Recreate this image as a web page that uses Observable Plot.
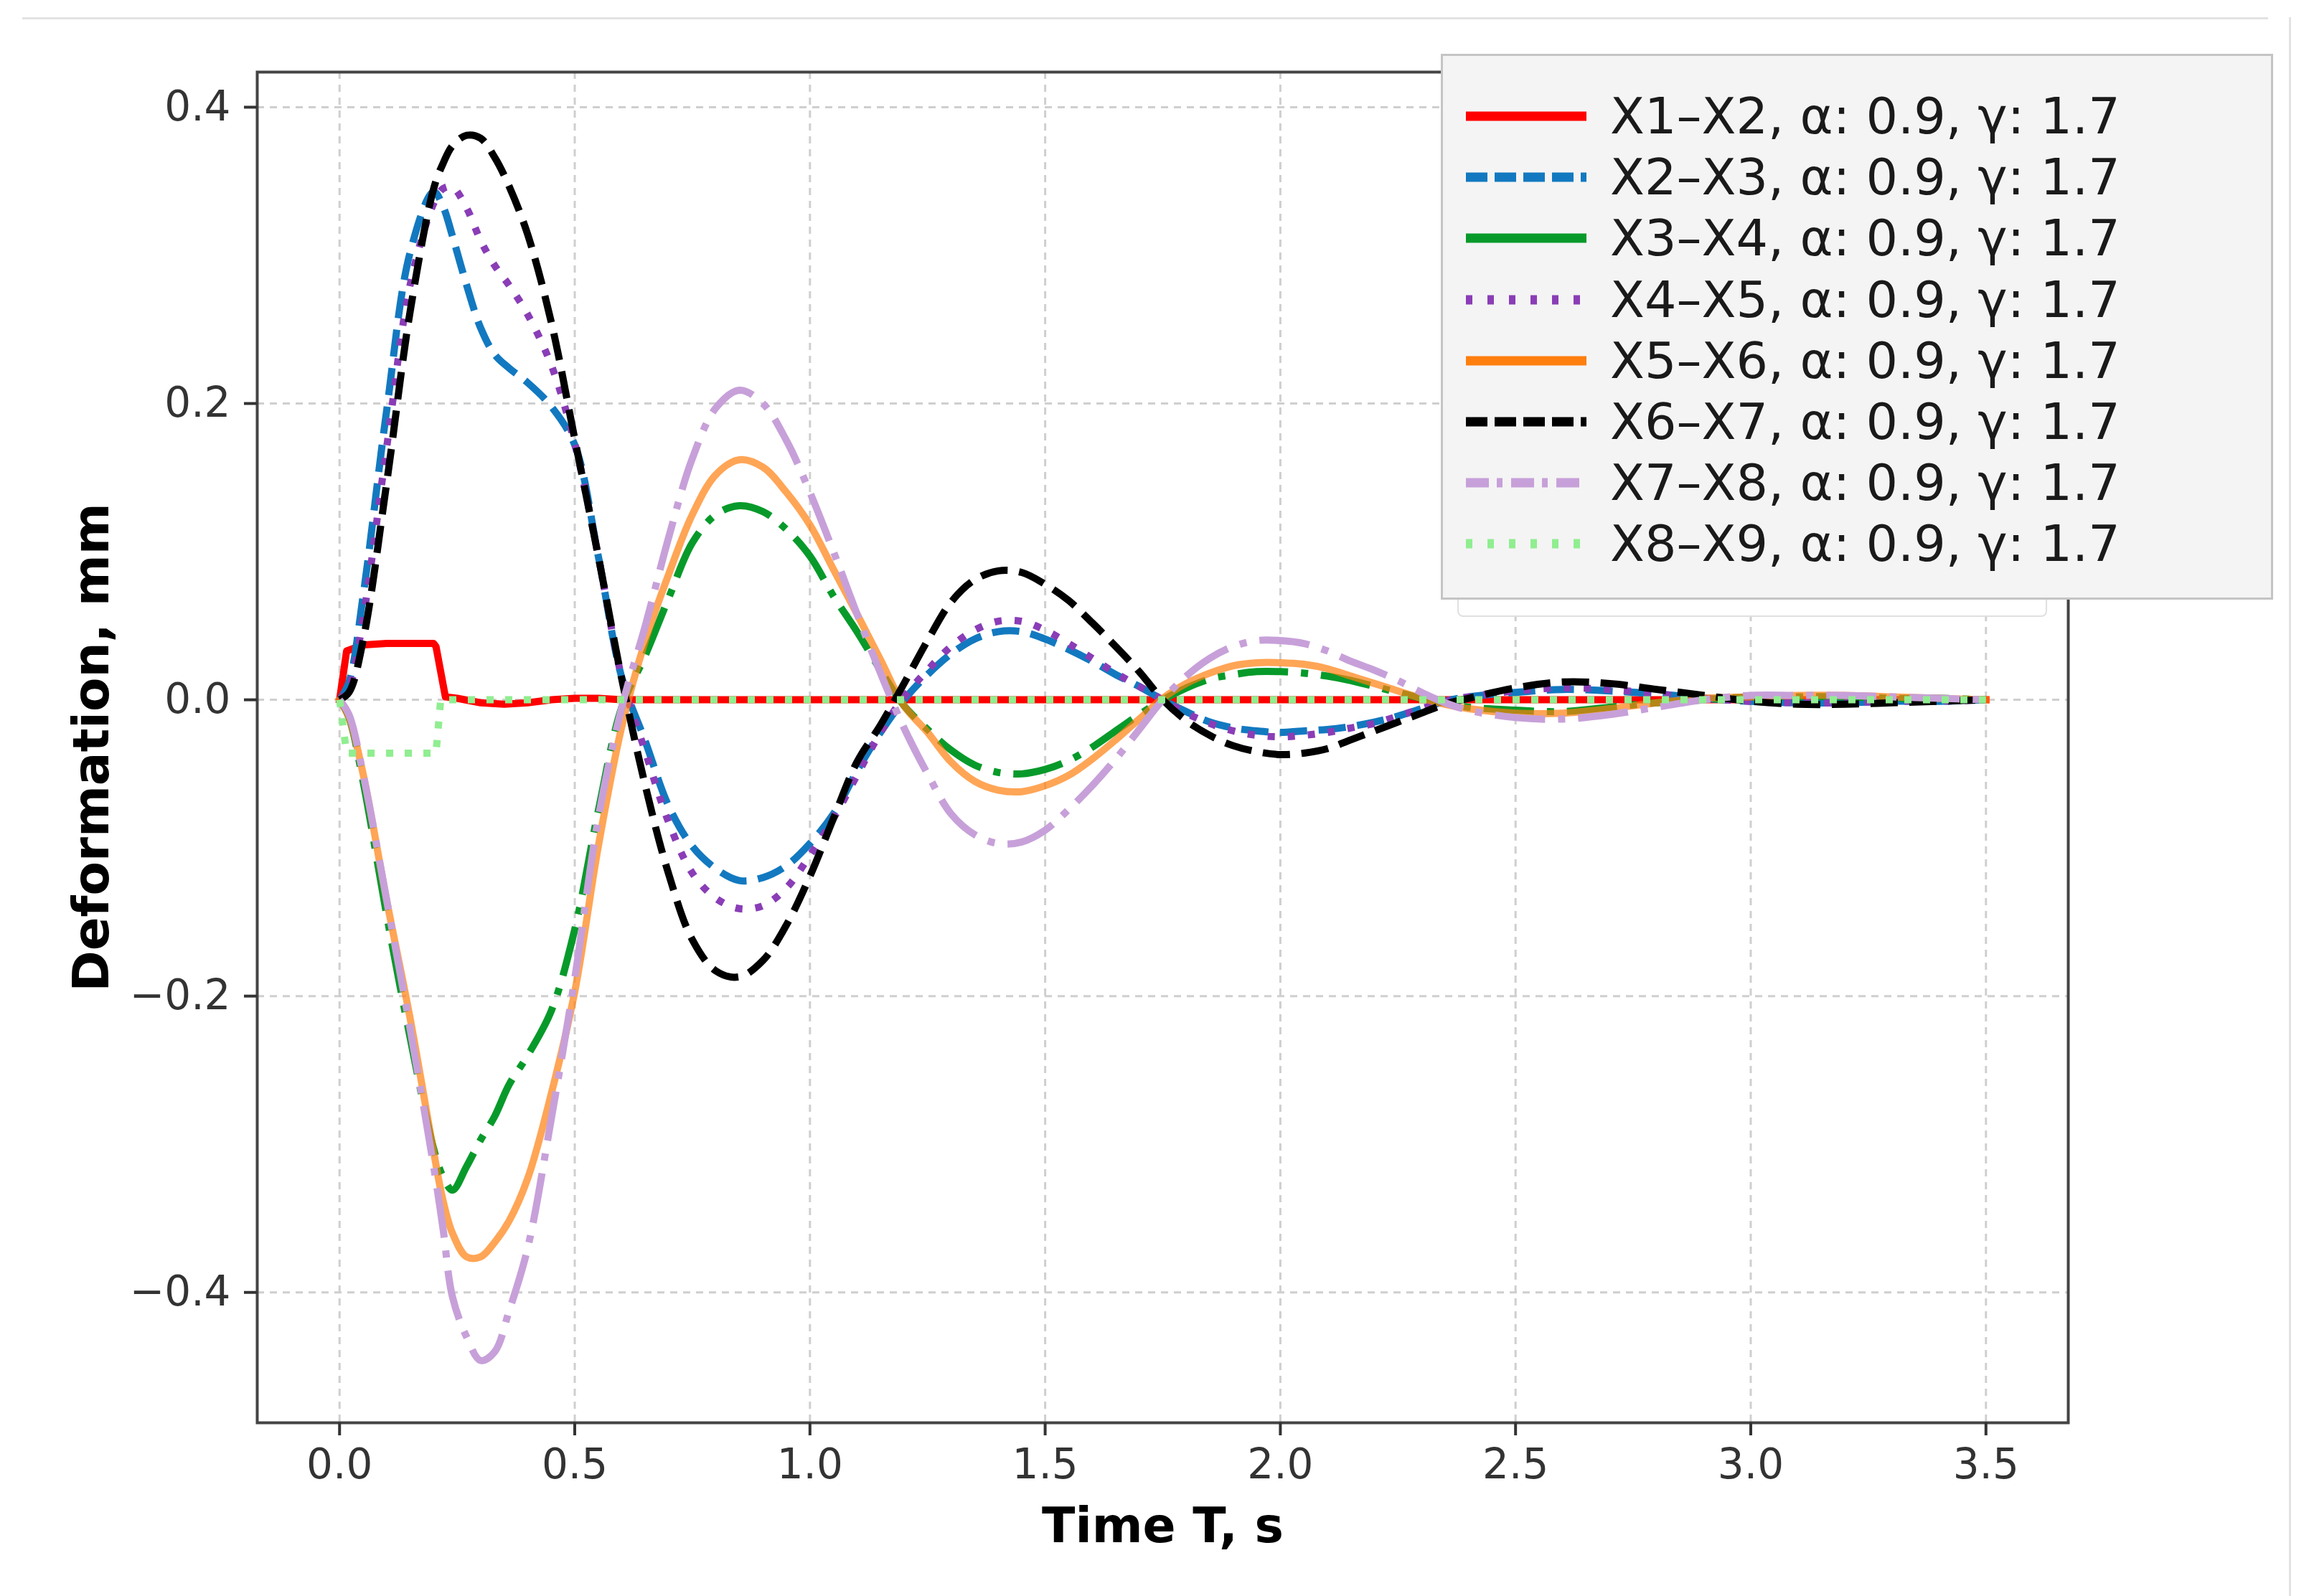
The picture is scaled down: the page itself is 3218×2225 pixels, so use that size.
<!DOCTYPE html>
<html><head><meta charset="utf-8">
<script src="https://cdn.jsdelivr.net/npm/d3@7"></script>
<script src="https://cdn.jsdelivr.net/npm/@observablehq/plot@0.6"></script>
<style>
html,body{margin:0;padding:0;background:#fff;}
#wrap{position:relative;width:3218px;height:2225px;overflow:hidden;background:#fff;font-family:'DejaVu Sans',sans-serif;}
#wrap > svg{position:absolute;left:0;top:0;}
.deco{position:absolute;background:#e2e2e2;}
#ghost{position:absolute;left:2031px;top:700px;width:818px;height:156px;border:2px solid #e0e0e0;border-radius:8px;background:#fff;}
#legend{position:absolute;left:2008px;top:75px;width:1154px;height:755px;border:3px solid #c4c4c4;background:#f4f4f4;}
.row{position:absolute;left:0;height:84px;display:flex;align-items:center;}
.row svg{position:static;}
.row span{font-size:70px;line-height:1;color:#1a1a1a;margin-left:33px;white-space:nowrap;}
</style></head><body><div id="wrap"></div><script>
// ---- data ----
const xTicks = [0, 0.5, 1.0, 1.5, 2.0, 2.5, 3.0, 3.5];
const yTicks = [-0.4, -0.2, 0, 0.2, 0.4];

const T = [0, 0.02, 0.05, 0.1, 0.15, 0.2, 0.22, 0.24, 0.27, 0.3, 0.33, 0.36, 0.4, 0.45, 0.5, 0.55, 0.6,
  0.65, 0.7, 0.75, 0.8, 0.85, 0.9, 0.95, 1.0, 1.05, 1.1, 1.15, 1.2, 1.25, 1.3, 1.35, 1.4, 1.45, 1.5,
  1.55, 1.6, 1.65, 1.7, 1.75, 1.8, 1.85, 1.9, 1.95, 2.0, 2.05, 2.1, 2.15, 2.2, 2.25, 2.3, 2.35, 2.4,
  2.5, 2.6, 2.7, 2.8, 2.9, 3.0, 3.1, 3.2, 3.3, 3.4, 3.5];

const tX1X2 = [0, 0.015, 0.05, 0.1, 0.15, 0.2, 0.205, 0.225, 0.25, 0.3, 0.35, 0.4, 0.45, 0.5, 0.55, 0.6, 0.8, 1.0, 1.5, 2.0, 2.5, 3.0, 3.5];
const X1X2 = [0, 0.033, 0.037, 0.038, 0.038, 0.038, 0.036, 0.002, 0.001, -0.002, -0.003, -0.002, 0.0, 0.001, 0.001, 0.0, 0, 0, 0, 0, 0, 0, 0];

const X2X3 = [0, 0.012, 0.07, 0.195, 0.302, 0.343, 0.333, 0.313, 0.28, 0.251, 0.233, 0.224, 0.214, 0.198, 0.172, 0.097, 0.015,
  -0.028, -0.072, -0.099, -0.114, -0.122, -0.12, -0.112, -0.097, -0.077, -0.048, -0.022, 0.0, 0.017, 0.031, 0.041, 0.046, 0.046, 0.041,
  0.034, 0.026, 0.017, 0.009, 0.0, -0.008, -0.015, -0.019, -0.021, -0.022, -0.021, -0.02, -0.018, -0.015, -0.011, -0.006, -0.001, 0.002,
  0.005, 0.007, 0.006, 0.004, 0.001, -0.001, -0.002, -0.002, -0.001, -0.001, 0];

const X3X4 = [0, -0.012, -0.055, -0.145, -0.228, -0.303, -0.322, -0.331, -0.315, -0.297, -0.281, -0.26, -0.24, -0.21, -0.155, -0.075, -0.005,
  0.03, 0.069, 0.106, 0.125, 0.131, 0.127, 0.115, 0.097, 0.07, 0.046, 0.02, -0.004, -0.02, -0.034, -0.044, -0.049, -0.05, -0.047,
  -0.041, -0.032, -0.021, -0.01, 0.0, 0.008, 0.014, 0.017, 0.019, 0.019, 0.018, 0.016, 0.013, 0.009, 0.005, 0.001, -0.002, -0.005,
  -0.007, -0.008, -0.005, -0.002, 0.0, 0.002, 0.002, 0.002, 0.001, 0.001, 0];

const X4X5 = [0, 0.008, 0.055, 0.17, 0.28, 0.335, 0.345, 0.346, 0.332, 0.31, 0.293, 0.28, 0.26, 0.226, 0.173, 0.097, 0.015,
  -0.035, -0.083, -0.117, -0.134, -0.141, -0.139, -0.127, -0.105, -0.08, -0.051, -0.022, 0.002, 0.02, 0.036, 0.047, 0.053, 0.053, 0.047,
  0.038, 0.028, 0.018, 0.009, 0.0, -0.009, -0.016, -0.021, -0.024, -0.025, -0.024, -0.022, -0.019, -0.016, -0.011, -0.006, -0.001, 0.002,
  0.006, 0.008, 0.007, 0.004, 0.001, -0.001, -0.002, -0.002, -0.001, -0.001, 0];

const X5X6 = [0, -0.012, -0.05, -0.135, -0.215, -0.305, -0.338, -0.36, -0.376, -0.376, -0.366, -0.352, -0.323, -0.266, -0.197, -0.099, -0.018,
  0.04, 0.085, 0.125, 0.152, 0.162, 0.157, 0.14, 0.118, 0.088, 0.058, 0.027, -0.004, -0.022, -0.042, -0.055, -0.061, -0.062, -0.058,
  -0.051, -0.04, -0.027, -0.013, 0.001, 0.011, 0.018, 0.023, 0.025, 0.025, 0.024, 0.021, 0.016, 0.011, 0.006, 0.001, -0.003, -0.006,
  -0.009, -0.009, -0.006, -0.002, 0.001, 0.002, 0.003, 0.003, 0.002, 0.001, 0];

const X6X7 = [0, 0.005, 0.04, 0.146, 0.262, 0.345, 0.362, 0.374, 0.381, 0.379, 0.366, 0.347, 0.314, 0.255, 0.176, 0.097, 0.014,
  -0.058, -0.118, -0.162, -0.183, -0.187, -0.176, -0.152, -0.119, -0.08, -0.042, -0.017, 0.011, 0.04, 0.066, 0.081, 0.087, 0.086, 0.078,
  0.067, 0.052, 0.036, 0.019, 0.0, -0.014, -0.024, -0.031, -0.035, -0.037, -0.036, -0.033, -0.027, -0.021, -0.015, -0.009, -0.003, 0.001,
  0.008, 0.012, 0.011, 0.007, 0.003, -0.001, -0.003, -0.003, -0.002, -0.001, 0];

const X7X8 = [0, -0.01, -0.05, -0.135, -0.222, -0.315, -0.357, -0.403, -0.43, -0.446, -0.44, -0.413, -0.37, -0.283, -0.188, -0.08, -0.005,
  0.05, 0.11, 0.163, 0.197, 0.209, 0.2, 0.175, 0.14, 0.1, 0.058, 0.018, -0.019, -0.05, -0.077, -0.091, -0.097, -0.096, -0.088,
  -0.074, -0.058, -0.04, -0.02, 0.0, 0.016, 0.028, 0.036, 0.04, 0.04, 0.038, 0.033, 0.026, 0.02, 0.013, 0.005, -0.002, -0.007,
  -0.012, -0.013, -0.01, -0.005, 0.0, 0.003, 0.003, 0.003, 0.002, 0.001, 0];

const tX8X9 = [0, 0.015, 0.1, 0.205, 0.215, 0.3, 1.0, 2.0, 3.0, 3.5];
const X8X9 = [0, -0.036, -0.036, -0.036, 0, 0, 0, 0, 0, 0];

const labels = ["X1–X2", "X2–X3", "X3–X4", "X4–X5", "X5–X6", "X6–X7", "X7–X8", "X8–X9"];
const params = ", α: 0.9, γ: 1.7";

// ---- styles ----
const series = [
  {name: labels[0], t: tX1X2, v: X1X2, color: "#ff0000", dash: null, ldash: null, curve: "linear"},
  {name: labels[1], t: T, v: X2X3, color: "#1279c0", dash: "38,16", ldash: "30,10", curve: "catmull-rom"},
  {name: labels[2], t: T, v: X3X4, color: "#079a2a", dash: "70,18,10,18", ldash: null, curve: "catmull-rom"},
  {name: labels[3], t: T, v: X4X5, color: "#8a3db6", dash: "10,18", ldash: "9,21", curve: "catmull-rom"},
  {name: labels[4], t: T, v: X5X6, color: "#ff7f0e", dash: null, ldash: null, curve: "catmull-rom", op: 0.7},
  {name: labels[5], t: T, v: X6X7, color: "#000000", dash: "38,16", ldash: "30,10", curve: "catmull-rom"},
  {name: labels[6], t: T, v: X7X8, color: "#c7a0d9", dash: "70,18,10,18", ldash: "32,11,8,12", curve: "catmull-rom"},
  {name: labels[7], t: tX8X9, v: X8X9, color: "#90ee90", dash: "10,16", ldash: "9,21", curve: "linear"}
];

const lineMarks = series.map(s => {
  const rows = s.t.map((t, i) => ({t, v: s.v[i]}));
  return Plot.line(rows, {
    x: "t", y: "v", stroke: s.color, strokeWidth: 10,
    strokeOpacity: s.op ?? 1,
    strokeDasharray: s.dash ?? undefined,
    strokeLinecap: s.dash ? "butt" : "square",
    strokeLinejoin: "round",
    curve: s.curve
  });
});

const gridStyle = {stroke: "#cfcfcf", strokeWidth: 3, strokeDasharray: "10,8"};
const fmt = d3.format(".1f");

const chart = Plot.plot({
  width: 3218, height: 2225,
  marginLeft: 358, marginRight: 336, marginTop: 100, marginBottom: 242,
  x: {domain: [-0.175, 3.675]},
  y: {domain: [-0.488, 0.4237]},
  style: {fontFamily: "'DejaVu Sans', sans-serif", fontSize: "58px", color: "#333", background: "transparent", overflow: "visible"},
  marks: [
    Plot.ruleX(xTicks, gridStyle),
    Plot.ruleY(yTicks, gridStyle),
    ...lineMarks,
    Plot.frame({stroke: "#444", strokeWidth: 4}),
    Plot.axisX({ticks: xTicks, tickFormat: fmt, tickSize: 18, tickPadding: 18, strokeWidth: 4, fontSize: 58, label: null}),
    Plot.axisY({ticks: yTicks, tickFormat: fmt, tickSize: 18, tickPadding: 19, strokeWidth: 4, fontSize: 58, label: null}),
    Plot.text(["Time T, s"], {text: d => d, frameAnchor: "bottom", dy: 145, fontSize: 68, fontWeight: "bold", fill: "#000", textAnchor: "middle", lineAnchor: "middle"}),
    Plot.text(["Deformation, mm"], {text: d => d, frameAnchor: "left", dx: -230, rotate: -90, fontSize: 69, fontWeight: "bold", fill: "#000", textAnchor: "middle", lineAnchor: "middle"})
  ]
});

const wrapEl = document.getElementById("wrap");
wrapEl.appendChild(chart);

// page decoration lines
const topLine = document.createElement("div"); topLine.className = "deco";
Object.assign(topLine.style, {left: "31px", top: "24px", width: "3130px", height: "3px"});
wrapEl.appendChild(topLine);
const rightLine = document.createElement("div"); rightLine.className = "deco";
Object.assign(rightLine.style, {left: "3190px", top: "24px", width: "3px", height: "2201px"});
wrapEl.appendChild(rightLine);

// legend
const ghostEl = document.createElement("div"); ghostEl.id = "ghost"; wrapEl.appendChild(ghostEl);
const legendEl = document.createElement("div"); legendEl.id = "legend"; wrapEl.appendChild(legendEl);
const svgNS = "http://www.w3.org/2000/svg";
series.forEach((s, i) => {
  const row = document.createElement("div"); row.className = "row";
  const cy = 162 + i * 85.2 - 78; // relative to legend inner top
  row.style.top = (cy - 42) + "px";
  row.style.left = (2043 - 2011) + "px";
  const sv = document.createElementNS(svgNS, "svg");
  sv.setAttribute("width", "168"); sv.setAttribute("height", "30");
  const ln = document.createElementNS(svgNS, "line");
  ln.setAttribute("x1", "0"); ln.setAttribute("x2", "168");
  ln.setAttribute("y1", "15"); ln.setAttribute("y2", "15");
  ln.setAttribute("stroke", s.color); ln.setAttribute("stroke-width", "13");
  if (s.ldash) ln.setAttribute("stroke-dasharray", s.ldash);
  sv.appendChild(ln);
  row.appendChild(sv);
  const sp = document.createElement("span"); sp.textContent = s.name + params;
  row.appendChild(sp);
  legendEl.appendChild(row);
});
</script></body></html>
